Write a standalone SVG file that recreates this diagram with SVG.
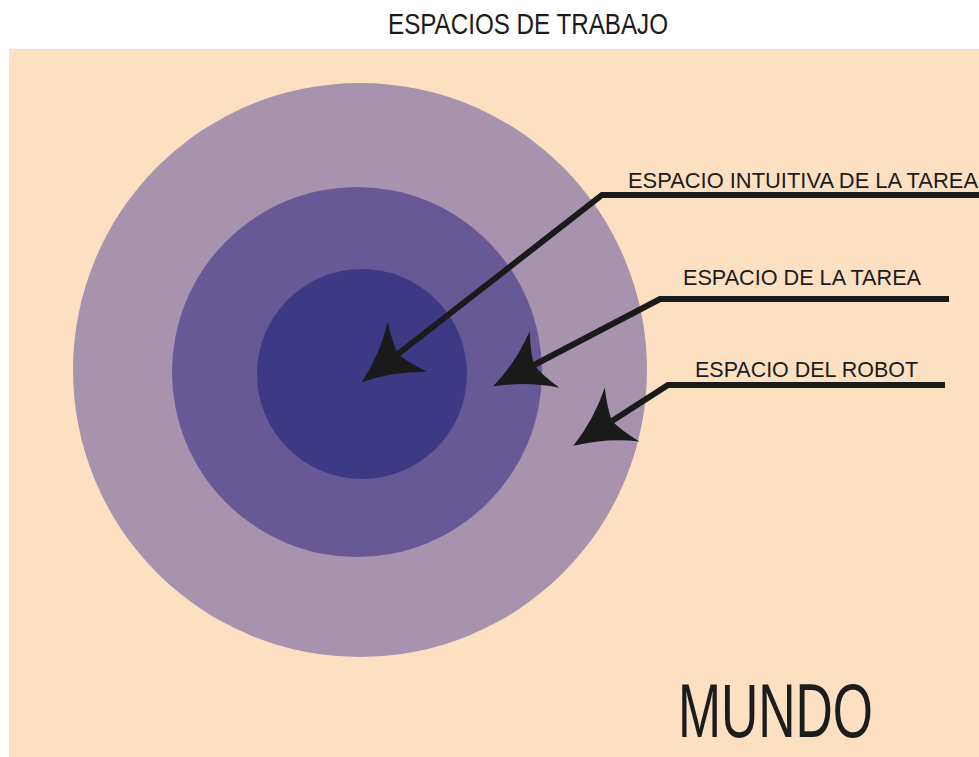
<svg xmlns="http://www.w3.org/2000/svg" width="979" height="757" viewBox="0 0 979 757">
  <defs>
    <style>
      .lbl { font-family: "Liberation Sans", "Open Sans", sans-serif; fill: #1c1c1c; }
      .conn { fill: none; stroke: #1a1a1a; stroke-width: 6; stroke-linejoin: miter; }
    </style>
    <marker id="head" markerUnits="userSpaceOnUse" orient="auto" refX="0" refY="0" markerWidth="120" markerHeight="120" viewBox="-60 -60 120 120" overflow="visible">
      <path d="M46,0 Q14,-11 -12,-32 Q-3,-14 0,0 Q-3,14 -12,32 Q14,11 46,0 Z" fill="#1a1a1a"/>
    </marker>
  </defs>
  <rect x="0" y="0" width="979" height="757" fill="#ffffff"/>
  <rect id="mundo-bg" x="9" y="49" width="970" height="708" fill="#fde0c2"/>
  <text class="lbl" x="388" y="34" font-size="30" textLength="280" lengthAdjust="spacingAndGlyphs">ESPACIOS DE TRABAJO</text>
  <g id="espacio-robot">
    <circle cx="360" cy="370" r="287" fill="#a893ae"/>
  </g>
  <g id="espacio-tarea">
    <circle cx="357" cy="372" r="185" fill="#675896"/>
  </g>
  <g id="espacio-intuitivo">
    <circle cx="362" cy="374" r="105" fill="#3d3985"/>
  </g>
  <g id="connectors">
    <path class="conn" d="M979,195 L602,195 L398,354" marker-end="url(#head)"/>
    <path class="conn" d="M949,299 L660,299 L534,365" marker-end="url(#head)"/>
    <path class="conn" d="M945,385 L668,385 L612,421" marker-end="url(#head)"/>
  </g>
  <g id="label-intuitiva">
    <text class="lbl" x="628" y="188" font-size="22" textLength="350" lengthAdjust="spacingAndGlyphs">ESPACIO INTUITIVA DE LA TAREA</text>
  </g>
  <g id="label-tarea">
    <text class="lbl" x="683" y="285" font-size="22" textLength="238" lengthAdjust="spacingAndGlyphs">ESPACIO DE LA TAREA</text>
  </g>
  <g id="label-robot">
    <text class="lbl" x="695" y="377" font-size="22" textLength="223" lengthAdjust="spacingAndGlyphs">ESPACIO DEL ROBOT</text>
  </g>
  <g id="label-mundo">
    <text class="lbl" x="678" y="737" font-size="76" textLength="195" lengthAdjust="spacingAndGlyphs">MUNDO</text>
  </g>
</svg>
